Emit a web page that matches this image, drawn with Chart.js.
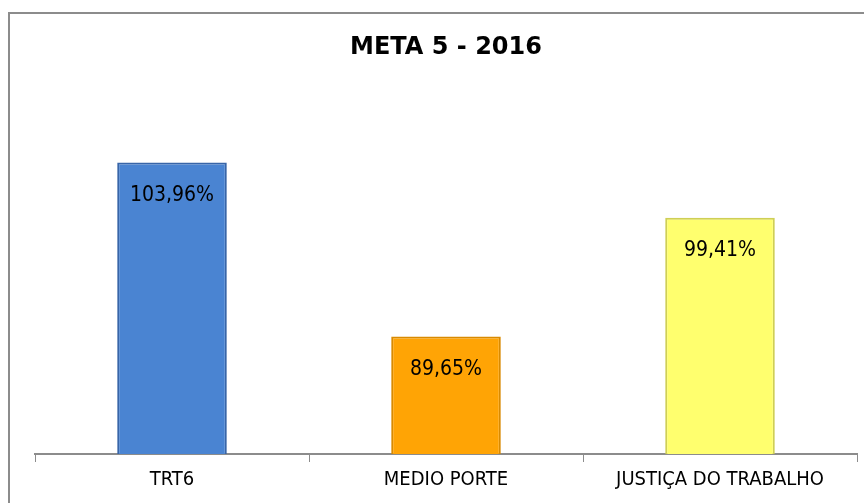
<!DOCTYPE html>
<html lang="pt">
<head>
    <meta charset="UTF-8">
    <title>Meta 5 - 2016</title>
    <script src="https://cdn.jsdelivr.net/npm/chart.js"></script>
    <style>
        body { margin: 0; background: #fff; }
        .wrap { position: relative; width: 864px; height: 503px; overflow: hidden; }
        .frame { position: absolute; left: 8px; top: 12px; width: 1000px; height: 1000px;
                 border-top: 2px solid #8c8c8c; border-left: 2px solid #8c8c8c; }
        canvas { position: absolute; left: 0; top: 0; }
    </style>
</head>
<body>
<div class="wrap">
    <div class="frame"></div>
    <canvas id="meta5" width="864" height="503"></canvas>
</div>
<script>
    const categories = ['TRT6', 'MEDIO PORTE', 'JUSTIÇA DO TRABALHO'];
    const values = [103.96, 89.65, 99.41];
    const valueLabels = ['103,96%', '89,65%', '99,41%'];
    const barColors = ['#4a84d2', '#ffa405', '#ffff6e'];
    const edgeColors = ['#3865a8', '#d98a00', '#cfcf55'];

    // valores escritos dentro da barra, perto do topo
    const barLabels = {
        id: 'barLabels',
        afterDatasetsDraw(chart) {
            const ctx = chart.ctx;
            const meta = chart.getDatasetMeta(0);
            ctx.save();
            ctx.fillStyle = '#000';
            ctx.textAlign = 'center';
            ctx.textBaseline = 'middle';
            ctx.font = '21px "DejaVu Sans Condensed", "DejaVu Sans"';
            meta.data.forEach((bar, i) => {
                ctx.fillText(valueLabels[i], bar.x, bar.y + 33);
            });
            ctx.restore();
        }
    };

    new Chart(document.getElementById('meta5'), {
        type: 'bar',
        data: {
            labels: categories,
            datasets: [{
                data: values,
                backgroundColor: barColors,
                borderColor: edgeColors,
                borderWidth: 2,
                barPercentage: 0.4,
                categoryPercentage: 1
            }]
        },
        options: {
            responsive: false,
            devicePixelRatio: 1,
            animation: false,
            layout: { padding: { left: 35, right: 7, bottom: 5, top: 0 } },
            plugins: {
                legend: { display: false },
                tooltip: { enabled: false },
                title: {
                    display: true,
                    text: 'META 5 - 2016',
                    color: '#000',
                    font: { family: '"DejaVu Sans"', size: 24, weight: 'bold' },
                    padding: { top: 33, bottom: 88 }
                }
            },
            scales: {
                x: {
                    grid: { offset: true, drawOnChartArea: false, tickLength: 8, color: '#8c8c8c' },
                    border: { color: '#8c8c8c', width: 2 },
                    ticks: {
                        color: '#000',
                        font: { family: '"DejaVu Sans Condensed", "DejaVu Sans"', size: 20 },
                        padding: 6
                    }
                },
                y: { display: false, min: 80, max: 105 }
            }
        },
        plugins: [barLabels]
    });
</script>
</body>
</html>
